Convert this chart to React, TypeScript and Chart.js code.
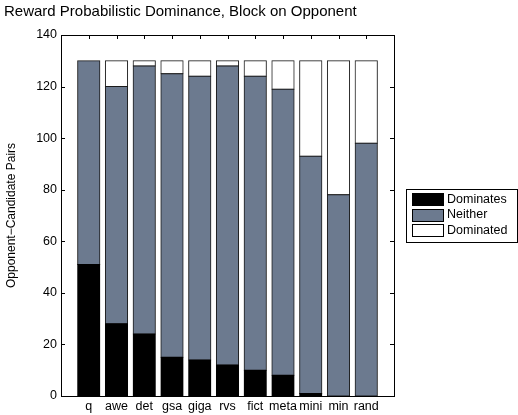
import React, { useEffect, useRef } from "react";
import { Chart, registerables } from "chart.js";

Chart.register(...registerables);

const categories = ["q", "awe", "det", "gsa", "giga", "rvs", "fict", "meta", "mini", "min", "rand"];
const dominates = [51, 28, 24, 15, 14, 12, 10, 8, 1, 0, 0];
const neither = [79, 92, 104, 110, 110, 116, 114, 111, 92, 78, 98];
const dominated = [0, 10, 2, 5, 6, 2, 6, 11, 37, 52, 32];
const yTicks = [0, 20, 40, 60, 80, 100, 120, 140];
const seriesNames = ["Dominates", "Neither", "Dominated"];
const seriesColors = ["#000000", "#6c7a8f", "#ffffff"];

const TITLE = "Reward Probabilistic Dominance, Block on Opponent";
const Y_TITLE = "Opponent\u2212Candidate Pairs";
const FONT = "'Liberation Sans', Arial, Helvetica, sans-serif";

export default function App() {
  const ref = useRef<HTMLCanvasElement | null>(null);

  useEffect(() => {
    if (!ref.current) return;
    const pad = (arr: number[]) => [null, ...arr, null];
    const labels = ["", ...categories, ""];

    const decor = {
      id: "decor",
      afterDraw(chart: any) {
        const { ctx, chartArea } = chart;
        const { left, right, top, bottom } = chartArea;
        const ys = chart.scales.y;
        const xs = chart.scales.x;
        ctx.save();
        ctx.strokeStyle = "#000";
        ctx.lineWidth = 1;
        // box
        ctx.strokeRect(Math.round(left) + 0.5, Math.round(top) + 0.5, Math.round(right - left), Math.round(bottom - top));
        // y ticks inward both sides
        ctx.beginPath();
        for (const v of yTicks) {
          const y = Math.round(ys.getPixelForValue(v)) + 0.5;
          ctx.moveTo(left, y);
          ctx.lineTo(left + 4, y);
          ctx.moveTo(right, y);
          ctx.lineTo(right - 4, y);
        }
        // x ticks at top
        for (let i = 1; i <= categories.length; i++) {
          const x = Math.round(xs.getPixelForValue(i)) + 0.5;
          ctx.moveTo(x, top);
          ctx.lineTo(x, top + 4);
        }
        ctx.stroke();

        // title
        ctx.fillStyle = "#000";
        ctx.font = `15px ${FONT}`;
        ctx.textAlign = "left";
        ctx.textBaseline = "middle";
        ctx.fillText(TITLE, 4, 12);

        // y axis title
        ctx.save();
        ctx.translate(12, (top + bottom) / 2);
        ctx.rotate(-Math.PI / 2);
        ctx.font = `12px ${FONT}`;
        ctx.textAlign = "center";
        ctx.textBaseline = "middle";
        ctx.fillText(Y_TITLE, 0, 0);
        ctx.restore();

        // legend
        const lx = 406, ly = 189, lw = 111, lh = 53;
        ctx.fillStyle = "#fff";
        ctx.fillRect(lx, ly, lw, lh);
        ctx.strokeRect(lx + 0.5, ly + 0.5, lw, lh);
        ctx.font = `12.5px ${FONT}`;
        ctx.textAlign = "left";
        ctx.textBaseline = "middle";
        for (let i = 0; i < seriesNames.length; i++) {
          const cy = 199 + i * 15.5;
          ctx.fillStyle = seriesColors[i];
          ctx.fillRect(412, Math.round(cy - 6), 31, 12);
          ctx.strokeRect(412.5, Math.round(cy - 6) + 0.5, 31, 12);
          ctx.fillStyle = "#000";
          ctx.fillText(seriesNames[i], 447, cy + 0.5);
        }
        ctx.restore();
      },
    };

    const common = { borderWidth: 1, borderSkipped: false, inflateAmount: 0.5 };

    const chart = new Chart(ref.current, {
      type: "bar",
      data: {
        labels,
        datasets: [
          { label: seriesNames[0], data: pad(dominates), backgroundColor: seriesColors[0], borderColor: "#000", ...common },
          { label: seriesNames[1], data: pad(neither), backgroundColor: seriesColors[1], borderColor: "#1a1a1a", ...common },
          { label: seriesNames[2], data: pad(dominated), backgroundColor: seriesColors[2], borderColor: "#1a1a1a", ...common },
        ] as any,
      },
      options: {
        animation: false,
        responsive: false,
        devicePixelRatio: 1,
        layout: { padding: { left: 0, top: 35, right: 124, bottom: 0 } },
        datasets: { bar: { barPercentage: 0.8, categoryPercentage: 1 } },
        plugins: { legend: { display: false }, title: { display: false }, tooltip: { enabled: false } },
        scales: {
          x: {
            stacked: true,
            offset: false,
            grid: { display: false, drawTicks: false },
            border: { display: false },
            ticks: {
              color: "#000",
              font: { family: FONT, size: 12.5 },
              padding: 3,
              autoSkip: false,
              maxRotation: 0,
            },
            afterFit(scale: any) {
              scale.height = 19;
            },
          },
          y: {
            stacked: true,
            min: 0,
            max: 140,
            grid: { display: false, drawTicks: false },
            border: { display: false },
            ticks: {
              stepSize: 20,
              color: "#000",
              font: { family: FONT, size: 12.5 },
              padding: 4,
            },
            afterFit(scale: any) {
              scale.width = 61;
            },
          },
        },
      },
      plugins: [decor],
    });
    return () => chart.destroy();
  }, []);

  return (
    <div style={{ position: "absolute", left: 0, top: 0, width: 518, height: 415, background: "#fff" }}>
      <canvas ref={ref} width={518} height={415} style={{ display: "block" }} />
    </div>
  );
}
